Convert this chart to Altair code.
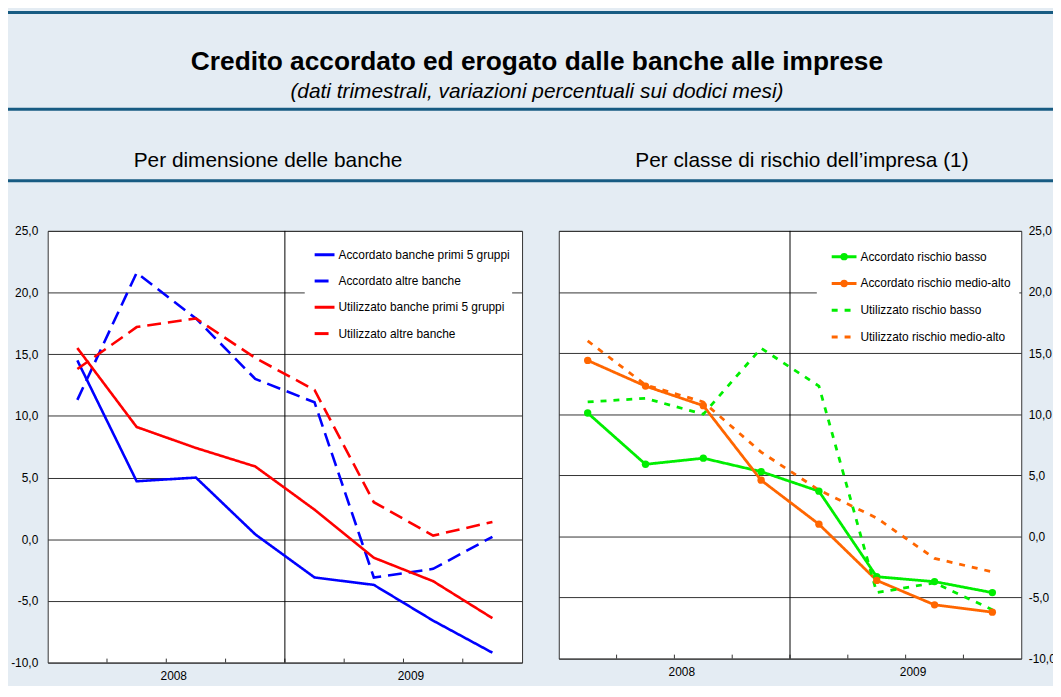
import altair as alt
import pandas as pd

# ---------------- data ----------------
quarters = ["I 2008", "II 2008", "III 2008", "IV 2008", "I 2009", "II 2009", "III 2009", "IV 2009"]
years = ["2008", "2009"]
y_ticks = [-10, -5, 0, 5, 10, 15, 20, 25]

left_names = ["Accordato banche primi 5 gruppi", "Accordato altre banche",
              "Utilizzato banche primi 5 gruppi", "Utilizzato altre banche"]
acc_primi5 = [14.5, 4.7, 5.0, 0.4, -3.1, -3.7, -6.6, -9.2]
acc_altre = [11.3, 21.6, 17.9, 13.0, 11.1, -3.1, -2.4, 0.2]
uti_primi5 = [15.5, 9.1, 7.4, 5.9, 2.4, -1.5, -3.4, -6.4]
uti_altre = [13.8, 17.2, 17.9, 14.7, 12.1, 3.0, 0.3, 1.4]

right_names = ["Accordato rischio basso", "Accordato rischio medio-alto",
               "Utilizzato rischio basso", "Utilizzato rischio medio-alto"]
acc_basso = [10.1, 5.9, 6.4, 5.3, 3.7, -3.3, -3.7, -4.6]
acc_medio = [14.4, 12.3, 10.7, 4.6, 1.0, -3.6, -5.6, -6.2]
uti_basso = [11.0, 11.3, 10.0, 15.4, 12.3, -4.6, -3.8, -6.0]
uti_medio = [16.0, 12.4, 11.0, 6.9, 3.8, 1.5, -1.8, -2.9]

titolo = "Credito accordato ed erogato dalle banche alle imprese"
sottotitolo = "(dati trimestrali, variazioni percentuali sui dodici mesi)"
titoli_pannelli = ["Per dimensione delle banche", "Per classe di rischio dell\u2019impresa (1)"]
figura = "Figura 8.1"

# ---------------- styles ----------------
BG = "#e4ecf3"
RULE = "#175b82"
GRID = "#333333"
FN = "'Liberation Sans', Arial, Helvetica, sans-serif"
FS = "'Liberation Sans', Arial, Helvetica, sans-serif"
SMALL = 12
LABEL_EXPR = "(datum.value < 0 ? '-' : '') + replace(format(abs(datum.value), '.1f'), '.', ',')"

one = pd.DataFrame({"k": [0]})


def hrule(y, x1, x2, color=RULE, sw=3, op=1.0):
    return alt.Chart(one).mark_rule(color=color, strokeWidth=sw, opacity=op).encode(
        x=alt.value(x1), x2=alt.value(x2), y=alt.value(y))


def label(text, x, y, size, weight="normal", style="normal", color="black", font=FS,
          align="center", baseline="middle"):
    return alt.Chart(pd.DataFrame({"t": [text]})).mark_text(
        font=font, fontSize=size, fontWeight=weight, fontStyle=style, color=color,
        align=align, baseline=baseline).encode(x=alt.value(x), y=alt.value(y), text="t:N")


def panel(names, series, colors, dashes, widths, W, H, orient, box, leg_y, leg_dy,
          sx1, sx2, tx, markers):
    rows = [{"serie": n, "trimestre": quarters[i], "q": i + 0.5, "v": v}
            for n, vals in zip(names, series) for i, v in enumerate(vals)]
    df = pd.DataFrame(rows)
    nq = len(quarters)
    xs = alt.Scale(domain=[0, nq], nice=False, zero=False)
    ys = alt.Scale(domain=[y_ticks[0], y_ticks[-1]], nice=False, zero=False)
    xaxis = alt.Axis(values=[nq / 4, 3 * nq / 4],
                     labelExpr=f"datum.value < {nq / 2} ? '{years[0]}' : '{years[1]}'",
                     ticks=False, grid=False, domain=False, title=None, labelPadding=8,
                     labelOffset=7, labelFont=FN, labelFontSize=SMALL, labelColor="black")
    yaxis = alt.Axis(orient=orient, values=y_ticks, grid=True, gridColor=GRID, gridWidth=1,
                     ticks=False, domain=False, title=None, labelExpr=LABEL_EXPR,
                     labelFont=FN, labelFontSize=SMALL, labelColor="black",
                     labelPadding=10 if orient == "left" else 7,
                     labelAlign="right" if orient == "left" else "left")
    X = alt.X("q:Q", scale=xs, axis=xaxis)
    Y = alt.Y("v:Q", scale=ys, axis=yaxis)
    color = alt.Color("serie:N", scale=alt.Scale(domain=names, range=colors), legend=None)
    dash = alt.StrokeDash("serie:N", scale=alt.Scale(domain=names, range=dashes), legend=None)
    sw = alt.StrokeWidth("serie:N", scale=alt.Scale(domain=names, range=widths), legend=None)

    layers = []
    tdf = pd.DataFrame({"q": list(range(1, nq))})
    layers.append(alt.Chart(tdf).mark_rule(color=GRID, strokeWidth=1).encode(
        x=X, y=alt.value(H - 4), y2=alt.value(H)))
    layers.append(alt.Chart(pd.DataFrame({"q": [nq / 2]})).mark_rule(
        color="black", strokeWidth=1).encode(x=X, y=alt.value(0), y2=alt.value(H)))
    layers.append(alt.Chart(df).mark_line().encode(
        x=X, y=Y, color=color, strokeDash=dash, strokeWidth=sw, detail="serie:N"))
    if markers:
        layers.append(alt.Chart(df).transform_filter(
            alt.FieldOneOfPredicate(field="serie", oneOf=markers)
        ).mark_circle(size=55, opacity=1).encode(x=X, y=Y, color=color))
    # legend box
    layers.append(alt.Chart(one).mark_rect(color="white").encode(
        x=alt.value(box[0]), x2=alt.value(box[1]), y=alt.value(box[2]), y2=alt.value(box[3])))
    for i, n in enumerate(names):
        yy = leg_y + i * leg_dy
        layers.append(alt.Chart(one).mark_rule(
            color=colors[i], strokeWidth=3, strokeDash=dashes[i]).encode(
            x=alt.value(sx1), x2=alt.value(sx2), y=alt.value(yy)))
        if n in markers:
            layers.append(alt.Chart(one).mark_circle(size=55, opacity=1, color=colors[i]).encode(
                x=alt.value((sx1 + sx2) / 2), y=alt.value(yy)))
        layers.append(label(n, tx, yy, SMALL, font=FN, align="left"))
    # invisible layout guides
    layers.append(alt.Chart(one).mark_rule(opacity=0).encode(
        x=alt.value(0), x2=alt.value(W), y=alt.value(-10)))
    layers.append(alt.Chart(one).mark_rule(opacity=0).encode(
        x=alt.value(0), x2=alt.value(W), y=alt.value(460)))
    return alt.layer(*layers).properties(
        width=W, height=H,
        view=alt.ViewBackground(fill="white", stroke=GRID, strokeWidth=1))


left = panel(left_names, [acc_primi5, acc_altre, uti_primi5, uti_altre],
             ["#0000ff", "#0000ff", "#ff0000", "#ff0000"],
             [[1, 0], [14, 7], [1, 0], [14, 7]],
             [2.6, 2.6, 2.8, 2.8], 478, 435, "left",
             [259, 468, 4, 122], 24, 26.5, 269, 289, 293, [])

right = panel(right_names, [acc_basso, acc_medio, uti_basso, uti_medio],
              ["#00ee00", "#ff6600", "#00ee00", "#ff6600"],
              [[1, 0], [1, 0], [6, 7], [6, 7]],
              [2.8, 2.8, 3, 3], 466, 431, "right",
              [260, 464, 6, 122], 26, 27, 275, 300, 304, right_names[:2])

header = alt.layer(
    hrule(-30, -60, 1100, sw=1, op=0),
    hrule(0, -40, 1013),
    hrule(97.5, -40, 1013),
    hrule(169.5, -40, 1013),
    label(figura, 963, -6, 17, weight="bold", color=RULE, align="left", baseline="bottom"),
    label(titolo, 493, 50, 26.5, weight="bold"),
    label(sottotitolo, 493, 80, 21, style="italic"),
    label(titoli_pannelli[0], 222, 150, 21),
    label(titoli_pannelli[1], 760, 150, 21),
).properties(width=1000, height=175,
             view=alt.ViewBackground(strokeOpacity=0, fillOpacity=0))

panels = alt.hconcat(left, right, spacing=35).resolve_scale(
    color="independent", strokeDash="independent", strokeWidth="independent")

chart = alt.vconcat(
    header,
    panels,
    spacing=34,
).properties(
    padding={"left": -20, "top": -28, "right": -87, "bottom": -5}
).configure(background=BG)

chart.save("out.html", embed_options={"renderer": "svg", "actions": False})
